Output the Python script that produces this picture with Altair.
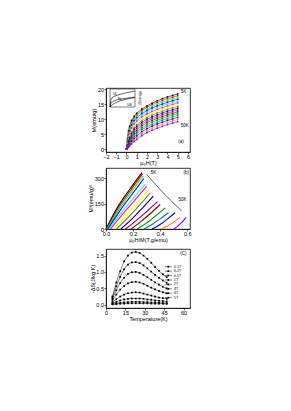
import altair as alt
import pandas as pd

FONT = "Liberation Sans"

# ---------------- panel (a): M(H) isotherms ----------------
temps = ["5K", "8K", "11K", "14K", "17K", "20K", "23K", "26K",
         "29K", "32K", "35K", "38K", "41K", "44K", "47K", "50K"]
colors = ["#000000", "#FF0000", "#00FF00", "#0000FF", "#00FFFF", "#FF00FF",
          "#FFFF00", "#808000", "#000080", "#800080", "#800000", "#008000",
          "#008080", "#0000C0", "#FF8000", "#8000FF"]

field_T = [0, 0.1, 0.2, 0.3, 0.5, 0.75, 1.0, 1.5, 2.0, 2.5, 3.0, 3.5, 4.0, 4.5, 5.0]
m_05K = [0, 3.5, 6.0, 7.6, 9.6, 11.0, 12.0, 13.4, 14.5, 15.4, 16.2, 16.9, 17.5, 18.0, 18.5]
m_08K = [0, 3.2, 5.6, 7.1, 9.1, 10.5, 11.5, 12.9, 14.0, 14.9, 15.7, 16.3, 16.9, 17.4, 17.9]
m_11K = [0, 2.9, 5.1, 6.6, 8.6, 10.0, 11.0, 12.4, 13.4, 14.3, 15.1, 15.7, 16.3, 16.8, 17.3]
m_14K = [0, 2.6, 4.7, 6.1, 8.1, 9.5, 10.5, 11.9, 12.9, 13.8, 14.5, 15.1, 15.7, 16.2, 16.7]
m_17K = [0, 2.3, 4.2, 5.6, 7.5, 9.0, 10.0, 11.3, 12.3, 13.2, 13.9, 14.5, 15.1, 15.6, 16.1]
m_20K = [0, 2.0, 3.8, 5.1, 7.0, 8.4, 9.4, 10.8, 11.8, 12.6, 13.3, 13.9, 14.5, 15.0, 15.5]
m_23K = [0, 1.8, 3.4, 4.6, 6.4, 7.8, 8.8, 10.2, 11.2, 12.0, 12.7, 13.3, 13.9, 14.4, 14.9]
m_26K = [0, 1.5, 3.0, 4.1, 5.8, 7.2, 8.2, 9.6, 10.6, 11.4, 12.1, 12.7, 13.3, 13.8, 14.3]
m_29K = [0, 1.3, 2.6, 3.6, 5.2, 6.6, 7.6, 9.0, 10.0, 10.8, 11.5, 12.1, 12.7, 13.2, 13.7]
m_32K = [0, 1.1, 2.2, 3.1, 4.6, 5.9, 7.0, 8.4, 9.4, 10.2, 10.9, 11.5, 12.1, 12.6, 13.1]
m_35K = [0, 0.9, 1.8, 2.6, 4.0, 5.3, 6.3, 7.8, 8.8, 9.6, 10.3, 10.9, 11.5, 12.0, 12.5]
m_38K = [0, 0.8, 1.5, 2.2, 3.5, 4.7, 5.7, 7.1, 8.1, 9.0, 9.7, 10.3, 10.9, 11.4, 11.9]
m_41K = [0, 0.6, 1.2, 1.8, 3.0, 4.1, 5.1, 6.5, 7.5, 8.3, 9.0, 9.7, 10.2, 10.8, 11.3]
m_44K = [0, 0.5, 1.0, 1.5, 2.5, 3.5, 4.4, 5.8, 6.8, 7.7, 8.4, 9.0, 9.6, 10.1, 10.6]
m_47K = [0, 0.4, 0.8, 1.2, 2.1, 3.0, 3.8, 5.1, 6.1, 7.0, 7.7, 8.3, 8.9, 9.4, 9.9]
m_50K = [0, 0.35, 0.7, 1.0, 1.7, 2.5, 3.2, 4.5, 5.5, 6.3, 7.0, 7.6, 8.2, 8.7, 9.2]
m_curves = [m_05K, m_08K, m_11K, m_14K, m_17K, m_20K, m_23K, m_26K,
            m_29K, m_32K, m_35K, m_38K, m_41K, m_44K, m_47K, m_50K]

# inset of panel (a)
inset_h = [0, 0.2, 0.5, 1, 2, 3, 4, 5]
inset_5K = [0, 9.0, 12.0, 13.5, 15.5, 17.0, 18.3, 19.5]
inset_Fe = [0, 4.5, 6.5, 8.0, 9.5, 10.5, 11.3, 12.0]
inset_50K = [0, 1.2, 3.0, 5.0, 7.5, 9.2, 10.5, 11.5]

# ---------------- panel (b): M^3 vs H/M ----------------
b_x = [
    [0.000, 0.090, 0.180, 0.265],
    [0.004, 0.095, 0.185, 0.270],
    [0.008, 0.100, 0.190, 0.275],
    [0.014, 0.105, 0.195, 0.280],
    [0.022, 0.112, 0.200, 0.290],
    [0.034, 0.120, 0.210, 0.300],
    [0.054, 0.140, 0.230, 0.315],
    [0.078, 0.160, 0.245, 0.327],
    [0.110, 0.190, 0.270, 0.350],
    [0.144, 0.220, 0.300, 0.380],
    [0.185, 0.255, 0.330, 0.400],
    [0.230, 0.300, 0.370, 0.437],
    [0.280, 0.340, 0.400, 0.460],
    [0.340, 0.400, 0.455, 0.510],
    [0.410, 0.455, 0.500, 0.546],
    [0.500, 0.530, 0.560, 0.590],
]
b_y = [
    [0, 135, 240, 332],
    [0, 128, 232, 325],
    [0, 120, 222, 313],
    [0, 110, 208, 298],
    [0, 95, 180, 265],
    [0, 85, 168, 253],
    [0, 75, 152, 233],
    [0, 66, 138, 214],
    [0, 58, 124, 194],
    [0, 48, 103, 161],
    [0, 42, 93, 145],
    [0, 36, 80, 125],
    [0, 27, 60, 96],
    [0, 27, 60, 96],
    [0, 18, 41, 67],
    [0, 17, 40, 67],
]
env_x = [0.30, 0.43, 0.56]
env_y = [322, 207, 106]

# ---------------- panel (c): entropy change ----------------
fields = ["0.1T", "0.2T", "0.5T", "1T", "2T", "3T", "4T", "5T"]
temp_c = [5, 8, 11, 14, 17, 20, 23, 26, 29, 32, 35, 38, 41, 44, 47]
ds_01T = [0.01, 0.02, 0.03, 0.035, 0.04, 0.045, 0.045, 0.045, 0.04, 0.04, 0.035, 0.03, 0.03, 0.03, 0.025]
ds_02T = [0.02, 0.04, 0.06, 0.07, 0.08, 0.09, 0.09, 0.09, 0.08, 0.08, 0.07, 0.07, 0.06, 0.05, 0.05]
ds_05T = [0.05, 0.09, 0.13, 0.16, 0.18, 0.19, 0.19, 0.19, 0.18, 0.16, 0.15, 0.13, 0.12, 0.11, 0.10]
ds_1T = [0.08, 0.17, 0.25, 0.31, 0.35, 0.37, 0.38, 0.37, 0.34, 0.31, 0.28, 0.25, 0.22, 0.20, 0.18]
ds_2T = [0.14, 0.31, 0.46, 0.57, 0.65, 0.69, 0.70, 0.68, 0.64, 0.58, 0.52, 0.47, 0.42, 0.38, 0.35]
ds_3T = [0.18, 0.44, 0.66, 0.82, 0.94, 0.99, 1.00, 0.97, 0.91, 0.84, 0.76, 0.68, 0.61, 0.55, 0.50]
ds_4T = [0.22, 0.56, 0.85, 1.08, 1.22, 1.29, 1.30, 1.27, 1.20, 1.11, 1.01, 0.91, 0.82, 0.74, 0.67]
ds_5T = [0.25, 0.68, 1.02, 1.32, 1.50, 1.59, 1.61, 1.58, 1.50, 1.40, 1.28, 1.15, 1.03, 0.93, 0.84]
ds_curves = [ds_01T, ds_02T, ds_05T, ds_1T, ds_2T, ds_3T, ds_4T, ds_5T]
# legend rows (drawn inside the plot like the original's in-frame legend)
legend_rows = [1.16, 1.025, 0.89, 0.755, 0.62, 0.485, 0.35, 0.215]

# ---------------- tables ----------------
dfa = pd.DataFrame([
    {"T": t, "H": h, "M": m}
    for t, ms in zip(temps, m_curves) for h, m in zip(field_T, ms)
])
dfi = pd.DataFrame(
    [{"c": "5K", "h": h, "m": m} for h, m in zip(inset_h, inset_5K)]
    + [{"c": "Fe", "h": h, "m": m} for h, m in zip(inset_h, inset_Fe)]
    + [{"c": "50K", "h": h, "m": m} for h, m in zip(inset_h, inset_50K)]
)
dfb = pd.DataFrame([
    {"T": t, "x": x, "y": y}
    for t, xs, ys in zip(temps, b_x, b_y) for x, y in zip(xs, ys)
])
dfenv = pd.DataFrame({"x": env_x, "y": env_y})
dfc = pd.DataFrame([
    {"F": f, "T": t, "S": s}
    for f, ss in zip(fields, ds_curves) for t, s in zip(temp_c, ss)
])
dfleg = pd.DataFrame({"F": fields, "S": legend_rows,
                      "T0": [45.5] * 8, "T1": [51.0] * 8, "Tm": [48.2] * 8, "Tt": [52.5] * 8})

W = 84
HA, HB, HC = 64, 61, 59
LF = 5.5
col = alt.Color("T:N", scale=alt.Scale(domain=temps, range=colors), legend=None)


def ax(values, title, fmt="d", **kw):
    args = dict(values=values, tickCount=len(values) * 4, title=title, labelOverlap=False,
                labelFlush=False, labelBound=False, format=fmt)
    args.update(kw)
    return alt.Axis(**args)


# ---------------- panel (a) ----------------
xa = alt.X("H:Q", scale=alt.Scale(domain=[-2, 6.2], nice=False, zero=False),
           axis=ax([-2, -1, 0, 1, 2, 3, 4, 5, 6], "μ₀H(T)", titlePadding=0.3))
ya = alt.Y("M:Q", scale=alt.Scale(domain=[-1, 20.5], nice=False, zero=False),
           axis=ax([0, 5, 10, 15, 20], "M(emu/g)"))
a_lines = alt.Chart(dfa).mark_line(strokeWidth=0.6).encode(xa, ya, col)
a_pts = alt.Chart(dfa).mark_point(shape="square", filled=True, size=2.5, opacity=1).encode(xa, ya, col)
a_lab = pd.DataFrame({"H": [5.3, 5.3, 5.05], "M": [19.0, 7.6, 2.4], "t": ["5K", "50K", "(a)"]})
a_text = alt.Chart(a_lab).mark_text(font=FONT, fontSize=4.5, align="left").encode(
    x=alt.X("H:Q"), y=alt.Y("M:Q"), text="t:N")
main_a = alt.layer(a_lines, a_pts, a_text)

isx = alt.Scale(domain=[0, 5], range=[4, 29], nice=False, zero=False)
isy = alt.Scale(domain=[0, 22], range=[19, 1], nice=False, zero=False)
xi = alt.X("h:Q", scale=isx,
           axis=alt.Axis(orient="bottom", offset=-(HA - 19), values=[0, 1, 2, 3, 4, 5], tickCount=24,
                         format="d", labelFontSize=2.8, tickSize=1, labelPadding=0.3, title="μ₀H(T)",
                         titleFontSize=3, titlePadding=0.3, domainWidth=0.5, tickWidth=0.5,
                         labelOverlap=False, labelFlush=False))
yi = alt.Y("m:Q", scale=isy,
           axis=alt.Axis(orient="left", offset=-4, values=[0, 10, 20], tickCount=12, format="d",
                         labelFontSize=2.8, tickSize=1, labelPadding=0.3, title=None,
                         domainWidth=0.5, tickWidth=0.5, labelOverlap=False, labelFlush=False))
in_lines = alt.Chart(dfi).mark_line(color="black", strokeWidth=0.6).encode(xi, yi, detail="c:N")
in_box = alt.Chart(pd.DataFrame({"h0": [0], "h1": [5], "m0": [0], "m1": [22]})).mark_rect(
    fill=None, stroke="black", strokeWidth=0.5).encode(
    x=alt.X("h0:Q", scale=isx, axis=None), x2="h1:Q",
    y=alt.Y("m0:Q", scale=isy, axis=None), y2="m1:Q")
in_lab = pd.DataFrame({"h": [0.6, 1.6, 3.4], "m": [16.5, 10.2, 3.2], "t": ["5K", "Fe", "50K"]})
in_text = alt.Chart(in_lab).mark_text(font=FONT, fontSize=3, align="left").encode(
    x=alt.X("h:Q", scale=isx, axis=None), y=alt.Y("m:Q", scale=isy, axis=None), text="t:N")
in_side = alt.Chart(pd.DataFrame({"h": [6.1], "m": [11], "t": ["M(emu/g)"]})).mark_text(
    font=FONT, fontSize=3, angle=90).encode(
    x=alt.X("h:Q", scale=isx, axis=None), y=alt.Y("m:Q", scale=isy, axis=None), text="t:N")
inset = alt.layer(in_box, in_lines, in_text, in_side)

pa = alt.layer(main_a, inset).resolve_scale(x="independent", y="independent").properties(width=W, height=HA)

# ---------------- panel (b) ----------------
xb = alt.X("x:Q", scale=alt.Scale(domain=[0, 0.62], nice=False, zero=False),
           axis=ax([0, 0.2, 0.4, 0.6], "μ₀H/M(T.g/emu)", ".1f"))
yb = alt.Y("y:Q", scale=alt.Scale(domain=[0, 360], nice=False, zero=False),
           axis=ax([0, 150, 300], "M³(emu/g)³"))
b_lines = alt.Chart(dfb).mark_line(strokeWidth=1.1, interpolate="monotone").encode(xb, yb, col)
b_env = alt.Chart(dfenv).mark_line(color="black", strokeWidth=0.6, interpolate="monotone").encode(
    x="x:Q", y="y:Q")
b_lab = pd.DataFrame({"x": [0.33, 0.535, 0.572], "y": [330, 170, 330], "t": ["5K", "50K", "(b)"]})
b_text = alt.Chart(b_lab).mark_text(font=FONT, fontSize=4.5, align="left").encode(
    x="x:Q", y="y:Q", text="t:N")
pb = alt.layer(b_lines, b_env, b_text).properties(width=W, height=HB)

# ---------------- panel (c) ----------------
xc = alt.X("T:Q", scale=alt.Scale(domain=[0, 65], nice=False, zero=False),
           axis=ax([0, 15, 30, 45, 60], "Temperature(K)"))
yc = alt.Y("S:Q", scale=alt.Scale(domain=[-0.1, 1.7], nice=False, zero=False),
           axis=ax([0, 0.5, 1.0, 1.5], "-ΔS(J/kg K)", ".1f"))
c_lines = alt.Chart(dfc).mark_line(color="black", strokeWidth=0.5, interpolate="monotone").encode(
    xc, yc, detail="F:N")
c_pts = alt.Chart(dfc).mark_point(shape="square", filled=True, size=3, opacity=1,
                                  color="black").encode(xc, yc, detail="F:N")
leg_line = alt.Chart(dfleg).mark_rule(color="black", strokeWidth=0.5).encode(
    x="T0:Q", x2="T1:Q", y="S:Q")
leg_pt = alt.Chart(dfleg).mark_point(shape="square", filled=True, size=3, opacity=1,
                                     color="black").encode(x="Tm:Q", y="S:Q")
leg_txt = alt.Chart(dfleg).mark_text(font=FONT, fontSize=3.8, align="left", baseline="middle",
                                     color="black").encode(x="Tt:Q", y="S:Q", text="F:N")
c_lab = pd.DataFrame({"T": [57.5], "S": [1.55], "t": ["(C)"]})
c_text = alt.Chart(c_lab).mark_text(font=FONT, fontSize=4.5, align="left").encode(
    x="T:Q", y="S:Q", text="t:N")
pc = alt.layer(c_lines, c_pts, leg_line, leg_pt, leg_txt, c_text).properties(
    width=W, height=HC,
    title=alt.TitleParams(text=".", color="transparent", fontSize=4, offset=0.5))

chart = alt.vconcat(pa, pb, pc, spacing=0).properties(
    padding={"left": 80, "top": 79, "right": 5, "bottom": 5},
    background="white"
).configure_view(stroke="black", strokeWidth=0.8).configure_axis(
    grid=False, domainColor="black", tickColor="black", labelColor="black", titleColor="black",
    tickSize=2, tickWidth=0.6, domainWidth=0.6, labelFontSize=LF, titleFontSize=5.5,
    labelFont=FONT, titleFont=FONT, titleFontWeight="normal", labelPadding=0.5, titlePadding=0.5
)

chart.save("out.html", embed_options={"renderer": "svg", "actions": False})
